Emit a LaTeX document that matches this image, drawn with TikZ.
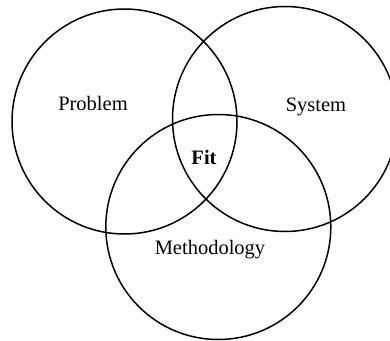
\documentclass[tikz,border=0pt]{standalone}
\usepackage{fontspec}
\setmainfont{Liberation Serif}
\begin{document}
\begin{tikzpicture}[x=1pt,y=-1pt,
  ring/.style={draw=black,line width=1.5pt,circle,minimum size=225pt,inner sep=0pt},
  lbl/.style={font=\fontsize{20.5}{24}\selectfont,inner sep=0pt}]
\useasboundingbox (0,0) rectangle (390,340);
\node[ring] (problem) at (124.5,121.5) {};
\node[ring] (system) at (285,119) {};
\node[ring] (method) at (218.3,227) {};
\node[lbl] (tp) at (93,103) {Problem};
\node[lbl] (ts) at (316,107) {System};
\node[lbl,font=\fontsize{20.5}{24}\selectfont\bfseries] (tf) at (204,157) {Fit};
\node[lbl] (tm) at (210,250) {Methodology};
\end{tikzpicture}
\end{document}
